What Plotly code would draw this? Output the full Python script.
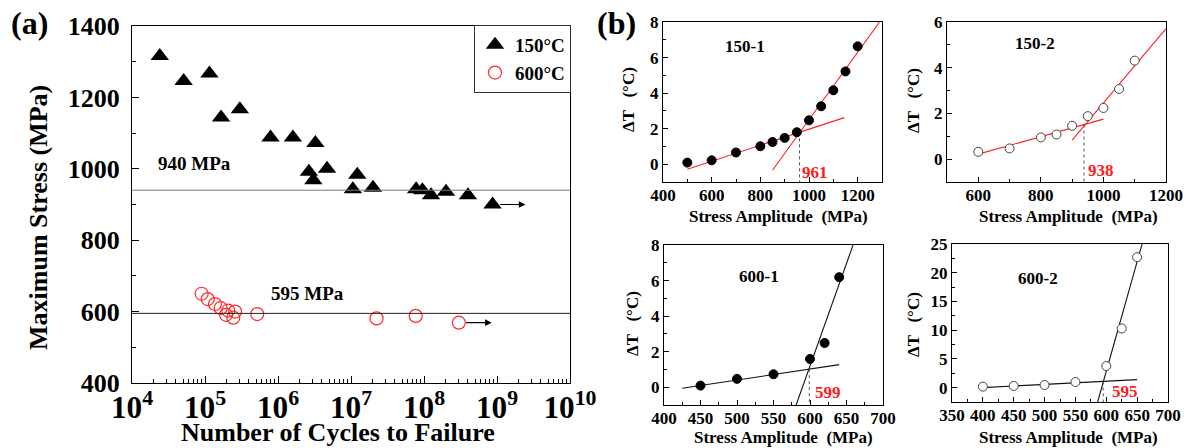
import numpy as np
import plotly.graph_objects as go

# ---------------- (a) S-N data ----------------
cycles_150 = [2.4e4, 5.1e4, 1.15e5, 1.66e5, 3.0e5, 7.9e5, 1.6e6, 3.25e6, 2.65e6, 3.05e6,
              4.7e6, 1.22e7, 1.06e7, 2.0e7, 7.8e7, 9.5e7, 1.25e8, 2.0e8, 4.0e8, 8.7e8]
stress_150 = [1316, 1246, 1267, 1144, 1167, 1088, 1088, 1072, 992, 968,
              1000, 983, 943, 947, 943, 940, 926, 936, 926, 900]
cycles_600 = [9.0e4, 1.09e5, 1.37e5, 1.64e5, 2.08e5, 2.58e5, 1.94e5, 2.44e5, 5.2e5,
              2.24e7, 7.7e7, 3.0e8]
stress_600 = [650, 635, 621, 610, 603, 600, 591, 583, 593, 581, 588, 569]
fatigue_limits = [940, 595]
limit_labels = ["940 MPa", "595 MPa"]

# ---------------- (b) self-heating data ----------------
amp_150_1 = [500, 600, 700, 800, 850, 900, 950, 1000, 1050, 1100, 1150, 1200]
dT_150_1 = [0.09, 0.22, 0.66, 1.01, 1.25, 1.48, 1.80, 2.47, 3.26, 4.16, 5.22, 6.63]
fit_150_1 = {"low_x": [500, 1145], "low_y": [-0.28, 2.62],
             "high_x": [850, 1290], "high_y": [-0.34, 8.0]}

amp_150_2 = [600, 700, 800, 850, 900, 950, 1000, 1050, 1100]
dT_150_2 = [0.32, 0.47, 0.95, 1.08, 1.46, 1.88, 2.24, 3.07, 4.31]
fit_150_2 = {"low_x": [600, 1000], "low_y": [0.22, 1.75],
             "high_x": [900, 1200], "high_y": [0.83, 5.71]}

amp_600_1 = [450, 500, 550, 600, 620, 640]
dT_600_1 = [0.09, 0.47, 0.73, 1.59, 2.49, 6.19]
fit_600_1 = {"low_x": [425, 640], "low_y": [-0.06, 1.27],
             "high_x": [581, 659], "high_y": [-1.0, 8.0]}

amp_600_2 = [400, 450, 500, 550, 600, 625, 650]
dT_600_2 = [0.17, 0.29, 0.46, 0.98, 3.76, 10.3, 22.7]
fit_600_2 = {"low_x": [400, 650], "low_y": [0.0, 1.39],
             "high_x": [586, 658], "high_y": [-2.5, 25.0]}

panel_names = ["150-1", "150-2", "600-1", "600-2"]
thresholds = [961, 938, 599, 595]

# ---------------- helpers ----------------
W, H = 1193, 448


def px(x):
    return x / W


def py(y):
    return 1 - y / H


FONT = "Liberation Serif"


def bold(size, color="black"):
    return dict(family=FONT, size=size, weight="bold", color=color)


def frame_axis(size, **kw):
    d = dict(showline=True, linecolor="black", linewidth=1, mirror=True,
             ticks="inside", tickcolor="black", showgrid=False, zeroline=False,
             automargin=False, tickfont=bold(size))
    d.update(kw)
    return d


fig = go.Figure()

# ---------------- panel (a) ----------------
fig.add_trace(go.Scatter(
    x=cycles_150, y=stress_150, mode="markers", name="150°C",
    marker=dict(symbol="triangle-up", size=16, color="black"),
    xaxis="x", yaxis="y"))
fig.add_trace(go.Scatter(
    x=cycles_600, y=stress_600, mode="markers", name="600°C",
    marker=dict(symbol="circle-open", size=13, color="#ff2a2a", line=dict(width=1.2)),
    xaxis="x", yaxis="y"))
for lim, col in zip(fatigue_limits, ["#7a7a7a", "#222222"]):
    fig.add_trace(go.Scatter(
        x=[1e4, 1e10], y=[lim, lim], mode="lines", showlegend=False, hoverinfo="skip",
        line=dict(color=col, width=1), xaxis="x", yaxis="y"))

annotations = []
# run-out arrows on the last specimen of each series
for cyc, st in [(cycles_150, stress_150), (cycles_600, stress_600)]:
    lx = np.log10(cyc[-1])
    annotations.append(dict(
        x=lx + 0.45, y=st[-1], ax=lx + 0.08, ay=st[-1], xref="x", yref="y",
        axref="x", ayref="y", text="", showarrow=True, arrowhead=2,
        arrowsize=1.1, arrowwidth=1.2, arrowcolor="black"))

annotations.append(dict(x=4.86, y=1016, xref="x", yref="y", text=limit_labels[0],
                        font=bold(19)))
annotations.append(dict(x=6.41, y=652, xref="x", yref="y", text=limit_labels[1],
                        font=bold(19)))

# ---------------- panel (b) ----------------
panels = [
    (amp_150_1, dT_150_1, fit_150_1, "black", "black", "#ff2020"),
    (amp_150_2, dT_150_2, fit_150_2, "white", "#444444", "#ff2020"),
    (amp_600_1, dT_600_1, fit_600_1, "black", "black", "#111111"),
    (amp_600_2, dT_600_2, fit_600_2, "white", "#444444", "#111111"),
]
name_pos = [(736, 6.6), (781, 5.05), (530, 6.22), (490, 19)]
thr_pos = [(1023, -0.45), (993, -0.5), (625, -0.28), (631, -0.64)]
y_bottoms = [-1, -1, -1, -2.5]

for i, (amp, dT, fit, fill, edge, lcol) in enumerate(panels):
    xa, ya = f"x{i + 2}", f"y{i + 2}"
    for key in ("low", "high"):
        fig.add_trace(go.Scatter(
            x=fit[key + "_x"], y=fit[key + "_y"], mode="lines", showlegend=False,
            hoverinfo="skip", line=dict(color=lcol, width=1.1), xaxis=xa, yaxis=ya))
    # dotted drop line at the knee
    t = thresholds[i]
    y_knee = np.interp(t, fit["low_x"], fit["low_y"])
    fig.add_trace(go.Scatter(
        x=[t, t], y=[y_knee, y_bottoms[i]], mode="lines", showlegend=False,
        hoverinfo="skip", line=dict(color="#555555", width=1, dash="dot"),
        xaxis=xa, yaxis=ya))
    fig.add_trace(go.Scatter(
        x=amp, y=dT, mode="markers", showlegend=False,
        marker=dict(symbol="circle", size=9, color=fill, line=dict(color=edge, width=1)),
        xaxis=xa, yaxis=ya))
    annotations.append(dict(x=name_pos[i][0], y=name_pos[i][1], xref=xa, yref=ya,
                            text=panel_names[i], font=bold(17)))
    annotations.append(dict(x=thr_pos[i][0], y=thr_pos[i][1], xref=xa, yref=ya,
                            text=str(t), font=bold(17, "#ff1a1a")))

# ---------------- axis titles and panel tags ----------------
annotations += [
    dict(x=px(30), y=py(23), text="(a)", font=bold(32)),
    dict(x=px(616), y=py(23), text="(b)", font=bold(32)),
    dict(x=px(39), y=py(218), text="Maximum Stress (MPa)", textangle=-90, font=bold(26)),
    dict(x=px(338), y=py(432), text="Number of Cycles to Failure", font=bold(26)),
]
for (xc, yc) in [(628, 100), (913, 100), (632, 324), (913, 324)]:
    annotations.append(dict(x=px(xc), y=py(yc), text="ΔT   (°C)", textangle=-90, font=bold(17)))
for (xc, yc) in [(778, 216), (1068, 216), (783, 437), (1068, 437)]:
    annotations.append(dict(x=px(xc), y=py(yc), text="Stress Amplitude  (MPa)", font=bold(17)))
for a in annotations:
    a.setdefault("xref", "paper")
    a.setdefault("yref", "paper")
    a.setdefault("showarrow", False)
    a.setdefault("xanchor", "center")
    a.setdefault("yanchor", "middle")

fig.update_layout(
    width=W, height=H, margin=dict(l=0, r=0, t=0, b=0),
    paper_bgcolor="white", plot_bgcolor="white",
    font=dict(family=FONT, color="black"),
    showlegend=True,
    legend=dict(x=px(571), y=py(25), xanchor="right", yanchor="top",
                bordercolor="#333333", borderwidth=1, bgcolor="white",
                font=bold(19), itemwidth=30, tracegroupgap=0),
    annotations=annotations,
    xaxis=frame_axis(25, type="log", range=[4, 10], dtick=1, exponentformat="power",
                     ticklen=7, domain=[px(132), px(570)], anchor="y",
                     ticklabelstandoff=-2,
                     minor=dict(ticks="inside", ticklen=4, dtick="D1", tickcolor="black")),
    yaxis=frame_axis(26, range=[400, 1400], dtick=200, ticklen=7, anchor="x",
                     domain=[py(383), py(26)], ticklabelstandoff=6,
                     minor=dict(ticks="inside", ticklen=4, dtick=100, tickcolor="black")),
    xaxis2=frame_axis(17, range=[400, 1300], tick0=0, dtick=200, ticklen=5, anchor="y2",
                      domain=[px(663), px(882)], ticklabelstandoff=-2,
                      minor=dict(ticks="inside", ticklen=3, dtick=100, tickcolor="black")),
    yaxis2=frame_axis(17, range=[-1, 8], tick0=0, dtick=2, ticklen=5, anchor="x2",
                      domain=[py(182), py(22)],
                      minor=dict(ticks="inside", ticklen=3, dtick=1, tickcolor="black")),
    xaxis3=frame_axis(17, range=[500, 1200], tick0=0, dtick=200, ticklen=5, anchor="y3",
                      domain=[px(947), px(1166)], ticklabelstandoff=-2,
                      minor=dict(ticks="inside", ticklen=3, dtick=100, tickcolor="black")),
    yaxis3=frame_axis(17, range=[-1, 6], tick0=0, dtick=2, ticklen=5, anchor="x3",
                      domain=[py(182), py(22)],
                      minor=dict(ticks="inside", ticklen=3, dtick=1, tickcolor="black")),
    xaxis4=frame_axis(17, range=[400, 700], tick0=0, dtick=50, ticklen=5, anchor="y4",
                      domain=[px(664), px(883)], ticklabelstandoff=-2,
                      minor=dict(ticks="inside", ticklen=3, dtick=25, tickcolor="black")),
    yaxis4=frame_axis(17, range=[-1, 8], tick0=0, dtick=2, ticklen=5, anchor="x4",
                      domain=[py(405), py(245)],
                      minor=dict(ticks="inside", ticklen=3, dtick=1, tickcolor="black")),
    xaxis5=frame_axis(17, range=[350, 700], tick0=0, dtick=50, ticklen=5, anchor="y5",
                      domain=[px(952), px(1168)], ticklabelstandoff=-2,
                      minor=dict(ticks="inside", ticklen=3, dtick=25, tickcolor="black")),
    yaxis5=frame_axis(17, range=[-2.5, 25], tick0=0, dtick=5, ticklen=5, anchor="x5",
                      domain=[py(402), py(244)],
                      minor=dict(ticks="inside", ticklen=3, dtick=2.5, tickcolor="black")),
)

fig.write_html("out.html")
